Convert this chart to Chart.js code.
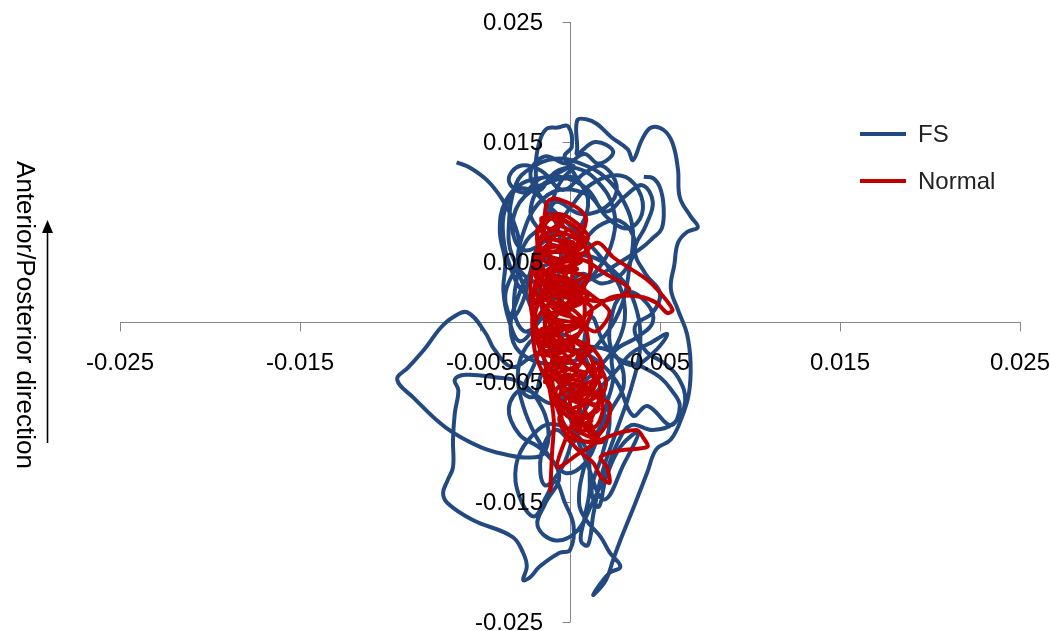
<!DOCTYPE html>
<html>
<head>
<meta charset="utf-8">
<script src="https://cdn.jsdelivr.net/npm/chart.js@4.4.0/dist/chart.umd.min.js"></script>
<style>
  html, body { margin: 0; padding: 0; background: #fff; overflow: hidden; }
  #wrap { position: relative; width: 1051px; height: 631px; }
  #legend { position: absolute; left: 860px; top: 121px; font-family: "Liberation Sans", Arial, sans-serif; font-size: 24px; color: #222; }
  .item { position: absolute; left: 0; white-space: nowrap; height: 26px; line-height: 26px; }
  .item span.line { position: absolute; left: 0; top: 11px; width: 46px; height: 4px; }
  .item span.txt { position: absolute; left: 58px; top: 0; }
  #ytitle { position: absolute; left: 25px; top: 315px; transform: translate(-50%, -50%) rotate(90deg); white-space: nowrap;
            font-family: "Liberation Sans", Arial, sans-serif; font-size: 26px; color: #000; }
  #arrow { position: absolute; left: 40px; top: 219px; }
</style>
</head>
<body>
<div id="wrap">
  <canvas id="chart" width="1051" height="631"></canvas>
  <div id="legend"></div>
  <div id="ytitle">Anterior/Posterior direction</div>
  <svg id="arrow" width="16" height="228">
    <line x1="7.5" y1="12" x2="7.5" y2="224" stroke="#000" stroke-width="1.6"/>
    <polygon points="7.5,1 2,14 13,14" fill="#000"/>
  </svg>
</div>
<script>
const seriesNames = ['FS', 'Normal'];
const seriesColors = ['#234A80', '#C00000'];
const xTicks = [-0.025, -0.015, -0.005, 0.005, 0.015, 0.025];
const yTicks = [-0.025, -0.015, -0.005, 0.005, 0.015, 0.025];

const fsX = [
  -0.0063, -0.0056, -0.0046, -0.0038, -0.0032, -0.0028, -0.0029, -0.0031, -0.0030, -0.0024,
  -0.0015, -0.0008, -0.0005, -0.0010, -0.0020, -0.0030, -0.0036, -0.0037, -0.0033, -0.0026,
  -0.0016, 0.0002, 0.0016, 0.0024, 0.0024, 0.0016, 0.0004, -0.0008, -0.0017, -0.0019,
  -0.0017, -0.0013, -0.0007, -0.0001, 0.0001, -0.0003, 0.0003, 0.0010, 0.0006, -0.0004,
  -0.0016, -0.0022, -0.0014, 0.0003,
  -0.0005, -0.0025, -0.0032, -0.0026, -0.0012, 0.0000, 0.0012, 0.0028, 0.0038, 0.0040,
  0.0032, 0.0020, 0.0010, -0.0002, -0.0016, -0.0026, -0.0034, -0.0028, -0.0016, -0.0004,
  0.0008, 0.0018, 0.0026, 0.0020, 0.0006, -0.0008, -0.0014, -0.0024, -0.0030, -0.0036,
  -0.0032, -0.0026, -0.0022, -0.0018, -0.0010, 0.0004, 0.0016, 0.0028, 0.0036, 0.0030,
  0.0018, 0.0006, -0.0004, -0.0012, -0.0020, -0.0026,
  -0.0020, -0.0014, -0.0002, 0.0006, 0.0002, -0.0008, -0.0016, -0.0014, -0.0004, 0.0004,
  0.0014, 0.0026, 0.0034, 0.0044, 0.0054, 0.0046, 0.0034, 0.0020, 0.0012, 0.0008,
  0.0016, 0.0022, 0.0018, 0.0012, 0.0016, 0.0020, 0.0028, 0.0038, 0.0030, 0.0019,
  0.0010, 0.0000, -0.0008, -0.0014, -0.0018, -0.0014, -0.0006, 0.0002,
  -0.0010, -0.0026, -0.0036, -0.0039, -0.0036, -0.0037, -0.0034, -0.0028, -0.0020, -0.0024,
  -0.0029, -0.0026, -0.0018, -0.0006, 0.0010, 0.0020, 0.0030, 0.0040, 0.0046, 0.0042,
  0.0036, 0.0042, 0.0050, 0.0046, 0.0036, 0.0042, 0.0052, 0.0060, 0.0064, 0.0058,
  0.0046, 0.0034, 0.0026, 0.0020, 0.0012, 0.0004, -0.0008, -0.0018, -0.0014, -0.0006,
  -0.0016, -0.0028, -0.0034, -0.0026, -0.0010, 0.0002, 0.0016, 0.0028, 0.0030, 0.0022,
  0.0010, -0.0004, -0.0016, -0.0022, -0.0014, -0.0002, 0.0008, 0.0016, 0.0024, 0.0014,
  0.0004,
  0.0004, 0.0004, 0.0009, 0.0015, 0.0023, 0.0032,
  0.0035, 0.0040, 0.0045, 0.0052, 0.0057, 0.0060, 0.0061, 0.0067, 0.0071, 0.0065,
  0.0060, 0.0058, 0.0056, 0.0060, 0.0065, 0.0067, 0.0066, 0.0062, 0.0056, 0.0048,
  0.0043, 0.0036, 0.0029, 0.0024, 0.0020, 0.0013, 0.0015, 0.0022, 0.0028, 0.0022,
  0.0017, 0.0009, 0.0005, 0.0008, 0.0014, 0.0023, 0.0030, 0.0024, 0.0008, -0.0005,
  -0.0018, -0.0026, -0.0029, -0.0026, -0.0019, -0.0010, -0.0002, 0.0008, 0.0015, 0.0020,
  0.0024, 0.0024, 0.0038, 0.0046, 0.0043, 0.0032, 0.0024, 0.0024, 0.0041, 0.0050,
  0.0056, 0.0061, 0.0056, 0.0043, 0.0035, 0.0026, 0.0013, -0.0003, -0.0020, -0.0032,
  -0.0042, -0.0047, -0.0057, -0.0065, -0.0072, -0.0081, -0.0090, -0.0096, -0.0087, -0.0069,
  -0.0050, -0.0034, -0.0024, -0.0015, -0.0012, -0.0018, -0.0028, -0.0042, -0.0058, -0.0064,
  -0.0062, -0.0064, -0.0065, -0.0065, -0.0068, -0.00705, -0.0068, -0.0054, -0.0032, -0.0026,
  -0.0024, -0.0026, -0.0022, -0.0017, -0.0006, 0.0000, 0.0002, -0.0003, -0.0008, -0.0013,
  -0.0020, -0.0028, -0.0030, -0.0023, -0.0010, 0.0007, 0.0011, 0.0008, 0.0006, 0.0010,
  0.0013, 0.0018, 0.0026, 0.0034, 0.0039, 0.0036, 0.0026, 0.0010, -0.0008, -0.0022,
  -0.0029, -0.0033, -0.0028, -0.0012, 0.0006, 0.0020, 0.0029, 0.0033, 0.0035, 0.0030,
  0.0020, 0.0006, -0.0008, -0.0022, -0.0030, -0.0034, -0.0032, -0.0022, -0.0005, 0.0012,
  0.0028, 0.0040, 0.0046, 0.0051, 0.0052, 0.0050, 0.0046, 0.0041
];
const fsY = [
  0.0133, 0.0129, 0.0118, 0.0103, 0.0086, 0.0065, 0.0042, 0.0020, 0.0002, -0.0008,
  0.0005, 0.0030, 0.0060, 0.0090, 0.0108, 0.0110, 0.0095, 0.0070, 0.0045, 0.0025,
  0.0018, 0.0026, 0.0045, 0.0070, 0.0095, 0.0116, 0.0128, 0.0125, 0.0110, 0.0130,
  0.0150, 0.0161, 0.0162, 0.0163, 0.0146, 0.0138, 0.0122, 0.0102, 0.0080, 0.0068,
  0.0076, 0.0092, 0.0116, 0.0120,
  0.0120, 0.0105, 0.0080, 0.0060, 0.0070, 0.0095, 0.0115, 0.0122, 0.0110, 0.0090,
  0.0078, 0.0088, 0.0110, 0.0120, 0.0120, 0.0108, 0.0118, 0.0130, 0.0126, 0.0110,
  0.0124, 0.0130, 0.0112, 0.0096, 0.0090, 0.0100, 0.0082, 0.0068, 0.0046, 0.0022,
  0.0004, 0.0018, 0.0042, 0.0060, 0.0050, 0.0062, 0.0080, 0.0084, 0.0066, 0.0042,
  0.0032, 0.0040, 0.0020, -0.0006, -0.0036, -0.0058,
  -0.0062, -0.0040, -0.0050, -0.0075, -0.0100, -0.0090, -0.0110, -0.0136, -0.0120, -0.0086,
  -0.0060, -0.0040, -0.0026, -0.0018, -0.0010, -0.0026, -0.0036, -0.0020, 0.0004, -0.0026,
  -0.0050, -0.0080, -0.0110, -0.0140, -0.0154, -0.0130, -0.0104, -0.0092, -0.0118, -0.0148,
  -0.0120, -0.0080, -0.0040, 0.0000, 0.0040, 0.0080, 0.0115, 0.0130,
  0.0122, 0.0116, 0.0100, 0.0076, 0.0050, 0.0026, 0.0002, -0.0016, -0.0002, 0.0022,
  0.0048, 0.0074, 0.0098, 0.0110, 0.0106, 0.0092, 0.0104, 0.0114, 0.0100, 0.0080,
  0.0060, 0.0040, 0.0024, 0.0008, -0.0004, -0.0024, -0.0034, -0.0046, -0.0066, -0.0084,
  -0.0090, -0.0086, -0.0102, -0.0126, -0.0152, -0.0174, -0.0182, -0.0170, -0.0152, -0.0128,
  -0.0106, -0.0094, -0.0072, -0.0056, -0.0068, -0.0056, -0.0038, -0.0012, 0.0018, 0.0044,
  0.0066, 0.0086, 0.0104, 0.0124, 0.0138, 0.0132, 0.0140, 0.0132, 0.0142, 0.0150,
  0.0140,
  0.0145, 0.0168, 0.0169, 0.0165, 0.0154, 0.0144,
  0.0135, 0.0152, 0.0162, 0.0160, 0.0149, 0.0127, 0.0104, 0.0088, 0.0079, 0.0075,
  0.0066, 0.0048, 0.0028, 0.0010, -0.0010, -0.0035, -0.0060, -0.0080, -0.0098, -0.0106,
  -0.0125, -0.0152, -0.0178, -0.0198, -0.0215, -0.02275, -0.0222, -0.0209, -0.0204, -0.0192,
  -0.0179, -0.0165, -0.0150, -0.0120, -0.0095, -0.0073, -0.0050, -0.0026, -0.0019, -0.0010,
  -0.0012, -0.0025, -0.0045, -0.0070, -0.0095, -0.0115, -0.0126, -0.0118, -0.0098, -0.0070,
  -0.0048, -0.0026, -0.0012, 0.0000, 0.0015, 0.0025, 0.0010, -0.0026, -0.0038, -0.0046,
  -0.0056, -0.0070, -0.0086, -0.0070, -0.0078, -0.0050, -0.0030, -0.0022, -0.0028, -0.00375,
  -0.0023, -0.0009, 0.0008, 0.0004, -0.0005, -0.0023, -0.0038, -0.0048, -0.0063, -0.0088,
  -0.0104, -0.0111, -0.0113, -0.0110, -0.0090, -0.0065, -0.0050, -0.0046, -0.0044, -0.0048,
  -0.0057, -0.0076, -0.0098, -0.0121, -0.0132, -0.01425, -0.0151, -0.0165, -0.0179, -0.01925,
  -0.0204, -0.0215, -0.02125, -0.0204, -0.01925, -0.0190, -0.0170, -0.0150, -0.0133, -0.0145,
  -0.0162, -0.0146, -0.0120, -0.0098, -0.0085, -0.0100, -0.0135, -0.0164, -0.0182, -0.0186,
  -0.0160, -0.0125, -0.0090, -0.0055, -0.0020, 0.0015, 0.0040, 0.0055, 0.0050, 0.0040,
  0.0020, -0.0005, -0.0025, -0.0035, -0.0030, -0.0010, 0.0015, 0.0045, 0.0075, 0.0100,
  0.0120, 0.0132, 0.0136, 0.0128, 0.0115, 0.0080, 0.0055, 0.0035, 0.0030, 0.0036,
  0.0050, 0.0062, 0.0070, 0.0078, 0.0096, 0.0112, 0.0120, 0.0121
];

const normalX = [
  -0.0011, -0.0010, -0.0009, -0.0012, -0.0016, -0.0021, -0.0022, -0.0020, -0.0015, -0.0013,
  -0.0009, -0.0002, 0.0006, 0.0009, 0.0004, -0.0006, -0.0014, -0.0008, 0.0004, 0.0012,
  0.0005, -0.0007, -0.0017, -0.0016, -0.0007, 0.0006, 0.0010, 0.0002, -0.0009, -0.0014,
  -0.0010, 0.0000, 0.0015, 0.0024, 0.0032, 0.0043, 0.0052, 0.0057, 0.0054, 0.0048,
  0.0039, 0.0024, 0.0012, 0.0000, -0.0011, -0.0019, -0.0012, 0.0006, 0.0020, 0.0033,
  0.0020, 0.0006, -0.0006, -0.0018, -0.0019, -0.0013, -0.0005, 0.0006, 0.0014, 0.0010,
  0.0000, -0.0010, -0.0008, 0.0000, 0.0012, 0.0017, 0.0012, 0.0003, 0.0000, 0.0006,
  0.0015, 0.0018, 0.0008, -0.0004, -0.0003, 0.0004, 0.0013, 0.0017, 0.0022, 0.00205,
  0.0017, 0.0028, 0.0043, 0.00405, 0.0037, 0.00205, 0.00055, -0.0007, -0.0002, 0.0006,
  0.0014, 0.0006, -0.0006, -0.0015, -0.0012, -0.0002, 0.0008, 0.0011, 0.0002, -0.0010,
  -0.0006, 0.0005, 0.0008, 0.0000, -0.0013, -0.0006, 0.0003, -0.0004, -0.0016, -0.0018,
  -0.0012, -0.0019, -0.0010, -0.0018, -0.0006, -0.0016, -0.0004, -0.0014, -0.0002, -0.0012,
  0.0002, -0.0010, 0.0004, -0.0008, 0.0006, -0.0004, 0.0010, 0.0000, 0.0012, 0.0002,
  0.0014, 0.0008, 0.0016, 0.0006, 0.0018, 0.0004, 0.0012, -0.0002, 0.0008, -0.0006,
  0.0006, -0.0008, 0.0004, -0.0010, 0.0002, -0.0012, 0.0000, -0.0014, -0.0004, -0.0010,
  0.0002, 0.0008, -0.0002, 0.0006, -0.0006, 0.0008, -0.0004, 0.0010, -0.0002, 0.0004,
  -0.0016, -0.0006, -0.0018, -0.0004, -0.0014, 0.0000, -0.0006, 0.0008, 0.0016, 0.0004,
  0.0014, 0.0020, 0.0010, 0.0018, 0.0000, -0.0006, 0.0002, -0.0012, -0.0020, -0.0016,
  -0.0020, -0.0012, -0.0016,
  -0.0010, -0.0002, -0.0012, 0.0002, -0.0016, 0.0006, -0.0012, 0.0004, -0.0018, -0.0002,
  -0.0014, 0.0008, -0.0008, -0.0020, 0.0000, -0.0012, 0.0006, -0.0016, -0.0004, -0.0018,
  0.0002, -0.0010, 0.0008, -0.0006, 0.0012, 0.0002, 0.0016, 0.0006, 0.0014, 0.0002,
  -0.0008, 0.0004, -0.0006, 0.0006, 0.0012, 0.0000, -0.0016, -0.0004, 0.0010, 0.0000,
  -0.0014, -0.0006, 0.0004, 0.0010, 0.0002, -0.0010, -0.0018, -0.0010, 0.0004, 0.0014,
  0.0022, 0.0014, 0.0002, -0.0010, -0.0020, -0.0014, -0.0002, 0.0010, 0.0018, 0.0012,
  0.0022, 0.0020, 0.0010, -0.0002, -0.0008, -0.0014, -0.0019, -0.0021, -0.0020, -0.0016,
  -0.0018, -0.0012
];
const normalY = [
  -0.0142, -0.0110, -0.0082, -0.0050, -0.0020, 0.0005, 0.0030, 0.0052, 0.0075, 0.0099,
  0.0103, 0.0100, 0.0093, 0.0085, 0.0065, 0.0050, 0.0032, 0.0010, 0.0025, 0.0046,
  0.0070, 0.0080, 0.0064, 0.0038, 0.0020, 0.0004, -0.0020, -0.0040, -0.0028, -0.0004,
  0.0024, 0.0044, 0.0066, 0.0054, 0.0046, 0.0035, 0.0021, 0.0010, 0.00075, 0.0016,
  0.0021, 0.0021, 0.0010, -0.0005, 0.0008, 0.0026, 0.0044, 0.0052, 0.0040, 0.0027,
  0.0018, 0.0020, 0.0030, 0.0015, -0.0010, -0.0035, -0.0052, -0.0060, -0.0046, -0.0026,
  -0.0016, -0.0032, -0.0062, -0.0080, -0.0076, -0.0058, -0.0040, -0.0050, -0.0070, -0.0090,
  -0.0086, -0.0068, -0.0056, -0.0068, -0.0092, -0.0106, -0.01175, -0.0129, -0.0134, -0.0121,
  -0.01125, -0.0107, -0.0104, -0.0096, -0.0090, -0.0096, -0.0109, -0.0121, -0.0096, -0.0070,
  -0.0052, -0.0030, -0.0012, 0.0010, 0.0036, 0.0056, 0.0064, 0.0040, 0.0018, 0.0000,
  -0.0022, -0.0010, 0.0015, 0.0034, 0.0058, 0.0074, 0.0050, 0.0026, 0.0048, 0.0078,
  0.0066, 0.0056, 0.0046, 0.0036, 0.0030, 0.0020, 0.0014, 0.0002, -0.0004, -0.0014,
  -0.0020, -0.0030, -0.0036, -0.0044, -0.0050, -0.0060, -0.0066, -0.0074, -0.0082, -0.0088,
  -0.0096, -0.0070, -0.0060, -0.0054, -0.0044, -0.0030, -0.0022, -0.0010, 0.0000, 0.0008,
  0.0016, 0.0024, 0.0032, 0.0040, 0.0048, 0.0056, 0.0064, 0.0072, 0.0082, 0.0090,
  0.0080, 0.0068, 0.0060, 0.0050, 0.0044, 0.0038, 0.0028, 0.0022, 0.0012, -0.0004,
  -0.0008, -0.0024, -0.0026, -0.0032, -0.0050, -0.0044, -0.0064, -0.0078, -0.0072, -0.0062,
  -0.0034, -0.0052, -0.0090, -0.0100, -0.0096, -0.0080, -0.0060, -0.0020, 0.0000, 0.0026,
  0.0044, 0.0060, 0.0086,
  0.0086, 0.0076, 0.0070, 0.0066, 0.0060, 0.0056, 0.0050, 0.0044, 0.0042, 0.0036,
  0.0030, 0.0028, 0.0022, 0.0016, 0.0010, 0.0004, -0.0002, -0.0006, -0.0014, -0.0018,
  -0.0026, -0.0036, -0.0042, -0.0048, -0.0056, -0.0066, -0.0070, -0.0084, -0.0092, -0.0078,
  -0.0058, -0.0040, -0.0020, -0.0008, 0.0012, 0.0022, 0.0034, 0.0052, 0.0060, 0.0072,
  0.0080, 0.0090, 0.0082, 0.0070, 0.0058, 0.0064, 0.0050, 0.0036, 0.0030, 0.0020,
  0.0008, -0.0008, 0.0004, 0.0016, -0.0004, -0.0024, -0.0030, -0.0020, -0.0036, -0.0060,
  -0.0068, -0.0086, -0.0100, -0.0088, -0.0068, -0.0046, -0.0028, -0.0002, 0.0026, 0.0054,
  0.0074, 0.0092
];

const toPoints = (xs, ys) => xs.map((x, i) => ({ x: x, y: ys[i] }));

// legend (html)
const legend = document.getElementById('legend');
seriesNames.forEach((name, i) => {
  legend.innerHTML += `<div class="item" style="top:${i * 47}px">
      <span class="line" style="background:${seriesColors[i]}"></span><span class="txt">${name}</span></div>`;
});

const axisColor = '#868686';
const tickFont = '24px "Liberation Sans", Arial, sans-serif';

// axes crossing at zero, drawn from the chart's own scales
const crossAxes = {
  id: 'crossAxes',
  beforeDatasetsDraw(chart) {
    const { ctx, chartArea: a, scales: { x, y } } = chart;
    const x0 = Math.round(x.getPixelForValue(0)) + 0.5;
    const y0 = Math.round(y.getPixelForValue(0)) + 0.5;
    ctx.save();
    ctx.strokeStyle = axisColor;
    ctx.lineWidth = 1;
    ctx.beginPath();
    ctx.moveTo(a.left, y0); ctx.lineTo(a.right + 1, y0);
    ctx.moveTo(x0, a.top); ctx.lineTo(x0, a.bottom);
    xTicks.forEach(v => {
      const px = Math.round(x.getPixelForValue(v)) + 0.5;
      ctx.moveTo(px, y0); ctx.lineTo(px, y0 + 9);
    });
    yTicks.forEach(v => {
      const py = Math.round(y.getPixelForValue(v)) + 0.5;
      ctx.moveTo(x0 - 8, py); ctx.lineTo(x0, py);
    });
    ctx.stroke();
    ctx.restore();
  },
  afterDatasetsDraw(chart) {
    const { ctx, scales: { x, y } } = chart;
    const x0 = x.getPixelForValue(0);
    const y0 = y.getPixelForValue(0);
    ctx.save();
    ctx.font = tickFont;
    ctx.fillStyle = '#000';
    ctx.textAlign = 'center';
    ctx.textBaseline = 'middle';
    xTicks.forEach(v => ctx.fillText(String(v), x.getPixelForValue(v), y0 + 41));
    ctx.textAlign = 'right';
    yTicks.forEach(v => ctx.fillText(String(v), x0 - 27, y.getPixelForValue(v) + 1));
    ctx.restore();
  }
};

new Chart(document.getElementById('chart').getContext('2d'), {
  type: 'scatter',
  data: {
    datasets: [
      {
        label: seriesNames[0],
        data: toPoints(fsX, fsY),
        showLine: true,
        borderColor: seriesColors[0],
        borderWidth: 4,
        pointRadius: 0,
        tension: 0.4,
        order: 2
      },
      {
        label: seriesNames[1],
        data: toPoints(normalX, normalY),
        showLine: true,
        borderColor: seriesColors[1],
        borderWidth: 4,
        pointRadius: 0,
        tension: 0.3,
        order: 1
      }
    ]
  },
  options: {
    responsive: false,
    animation: false,
    layout: { padding: { left: 120, right: 31, top: 22, bottom: 9 } },
    plugins: { legend: { display: false }, tooltip: { enabled: false } },
    scales: {
      x: { type: 'linear', min: -0.025, max: 0.025, display: false },
      y: { type: 'linear', min: -0.025, max: 0.025, display: false }
    }
  },
  plugins: [crossAxes]
});
</script>
</body>
</html>
